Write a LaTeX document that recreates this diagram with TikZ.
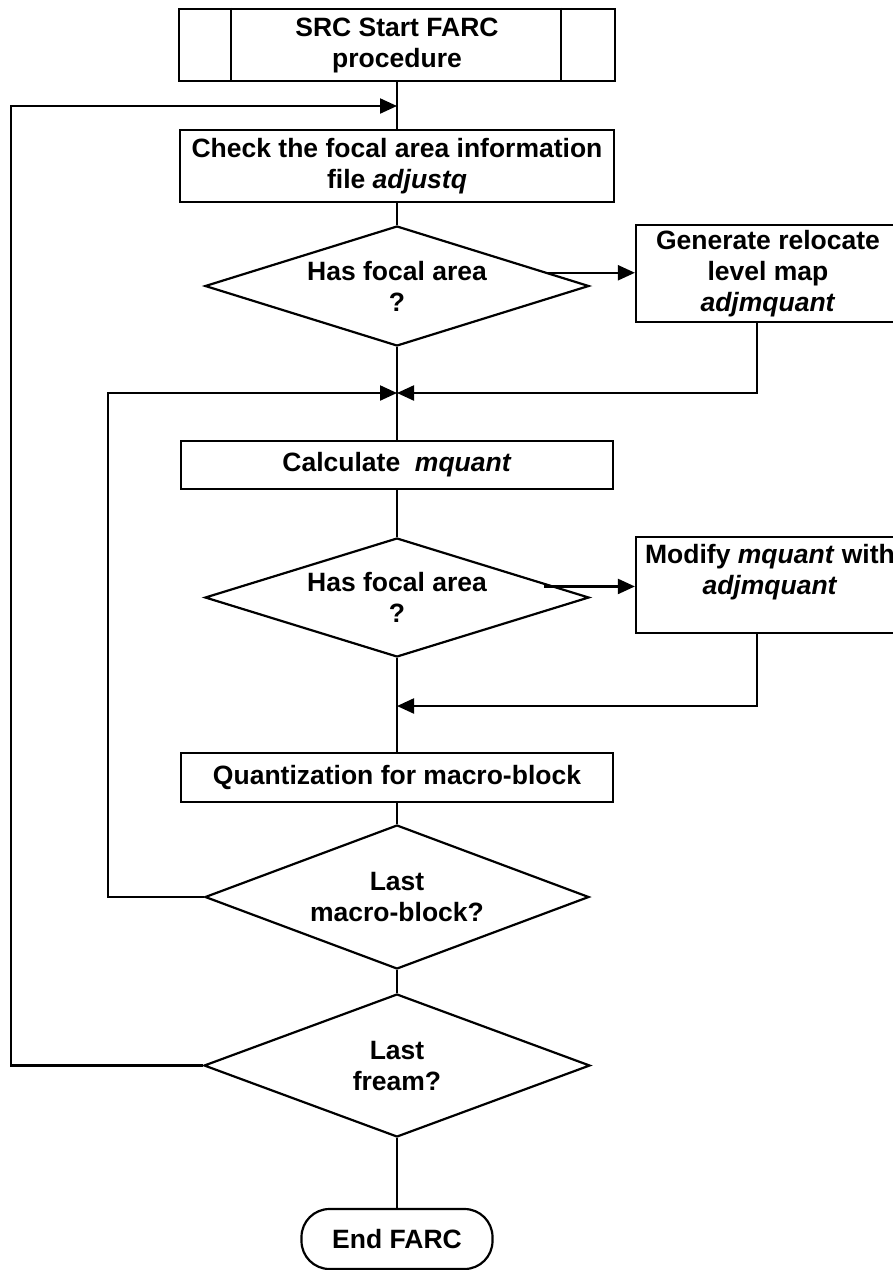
\documentclass[tikz,border=0pt]{standalone}
\usepackage{fontspec}
\setmainfont{Liberation Sans}
\usetikzlibrary{shapes.geometric,arrows.meta,calc}

\begin{document}
\begin{tikzpicture}[x=1pt,y=-1pt,
  every node/.style={font=\bfseries\fontsize{26.5}{31}\selectfont, align=center, inner sep=0pt},
  box/.style={draw, line width=2.2pt, rectangle},
  decision/.style={draw, line width=2.2pt, diamond, aspect=3.2},
  terminal/.style={draw, line width=2.2pt, rectangle, rounded corners=28pt},
  link/.style={line width=2.2pt},
  arr/.style={line width=2.2pt, -{Triangle[length=17pt,width=15pt]}}]

\useasboundingbox (0,0) rectangle (893,1270);
\clip (0,0) rectangle (893,1270);

% process boxes and decisions along the main column
\node[box, minimum width=436pt, minimum height=72pt] (start) at (397,45) {SRC Start FARC\\procedure};
\draw[link] ([xshift=53pt]start.north west) -- ([xshift=53pt]start.south west);
\draw[link] ([xshift=-55pt]start.north east) -- ([xshift=-55pt]start.south east);

\node[box, minimum width=434pt, minimum height=72pt] (check) at (397,166) {Check the focal area information\\file \textit{adjustq}};
\node[decision, minimum width=384pt, minimum height=120pt] (d1) at (397,286) {Has focal area\\?};
\node[box, minimum width=264pt, minimum height=97pt] (gen) at (768,273.5) {Generate relocate\\level map\\\textit{adjmquant}};

\node[box, minimum width=432pt, minimum height=48pt] (calc) at (397,465) {Calculate\ \ \textit{mquant}};
\node[decision, minimum width=384pt, minimum height=119pt] (d2) at (397,597.5) {Has focal area\\?};
\node[box, minimum width=268pt, minimum height=96pt] (mod) at (770,585) {Modify \textit{mquant} with\\\textit{adjmquant}\\\mbox{}};

\node[box, minimum width=432pt, minimum height=49pt] (quant) at (397,777.5) {Quantization for macro-block};
\node[decision, minimum width=384pt, minimum height=144pt] (d3) at (397,897) {Last\\macro-block?};
\node[decision, minimum width=386pt, minimum height=143pt] (d4) at (397,1065.5) {Last\\fream?};
\node[terminal, minimum width=191pt, minimum height=60pt] (end) at (397,1239) {End FARC};

% junctions and loop rails
\coordinate (jtop) at (397,106);
\coordinate (jA) at (397,393);
\coordinate (jB) at (397,706);
\coordinate (outerx) at (11,0);
\coordinate (innerx) at (108,0);

% main flow
\draw[link] (start.south) -- (check.north);
\draw[link] (check.south) -- (d1.north);
\draw[link] (d1.south) -- (calc.north);
\draw[link] (calc.south) -- (d2.north);
\draw[link] (d2.south) -- (quant.north);
\draw[link] (quant.south) -- (d3.north);
\draw[link] (d3.south) -- (d4.north);
\draw[link] (d4.south) -- (end.north);

% branches to the side boxes and back
\draw[arr] (d1.5) -- (d1.5 -| gen.west);
\draw[arr] ([xshift=-11pt]gen.south) |- (jA);
\draw[arr] ([xshift=-11pt]d2.4) -- (d2.4 -| mod.west);
\draw[arr] ([xshift=-13pt]mod.south) |- (jB);

% loops
\draw[arr] (d3.west) -- (d3.west -| innerx) |- (jA);
\draw[arr] (d4.west) -- (d4.west -| outerx) |- (jtop);
\end{tikzpicture}
\end{document}
